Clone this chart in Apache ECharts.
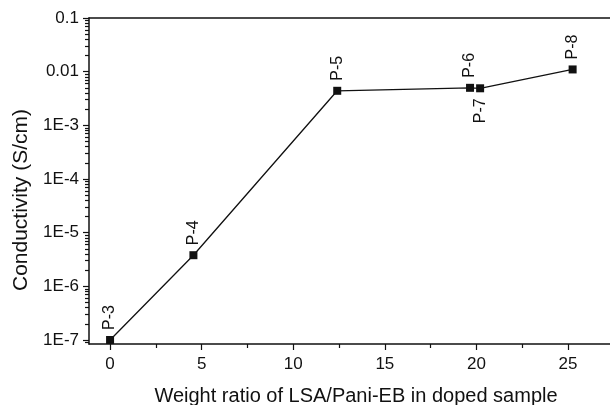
<!doctype html>
<html>
<head>
  <meta charset="utf-8">
  <script src="https://cdn.jsdelivr.net/npm/echarts@6/dist/echarts.min.js"></script>
  <style>html,body{margin:0;padding:0;background:#fff;}</style>
</head>
<body>
  <div id="main" style="width:610px;height:405px;"></div>
  <script>
  // samples
  var samples = ['P-3', 'P-4', 'P-5', 'P-6', 'P-7', 'P-8'];
  var ratio = [0, 4.55, 12.4, 19.65, 20.2, 25.25];
  var conductivity = [1e-7, 3.8e-6, 4.4e-3, 5.0e-3, 4.9e-3, 0.011];
  var xTicks = [0, 5, 10, 15, 20, 25];
  var xMinorTicks = [2.5, 7.5, 12.5, 17.5, 22.5, 27.5];
  var yTickLabels = ['1E-7', '1E-6', '1E-5', '1E-4', '1E-3', '0.01', '0.1'];
  var yTickExp = [-7, -6, -5, -4, -3, -2, -1];

  var yMin = -7.075, yMax = -1;
  var xMin = -1.15, xMax = 28;

  var yMinor = [];
  for (var e = -8; e < -1; e++) {
    for (var k = 2; k <= 9; k++) {
      var v = e + Math.log10(k);
      if (v > yMin && v < yMax) yMinor.push(v);
    }
  }

  var font = 'Liberation Sans, Arial, sans-serif';
  var ink = '#111';

  var data = [];
  for (var i = 0; i < samples.length; i++) {
    var below = samples[i] === 'P-7';
    data.push({
      value: [ratio[i], Math.log10(conductivity[i])],
      label: {
        show: true,
        formatter: samples[i],
        position: below ? 'bottom' : 'top',
        distance: 6,
        rotate: 90,
        align: below ? 'right' : 'left',
        verticalAlign: 'middle',
        fontFamily: font,
        fontSize: 16,
        color: ink
      }
    });
  }

  var option = {
    backgroundColor: '#fff',
    animation: false,
    grid: { left: 89, top: 18, width: 534, height: 326, outerBoundsMode: 'none', containLabel: false },
    xAxis: [{
      type: 'value', min: xMin, max: xMax, position: 'bottom',
      name: 'Weight ratio of LSA/Pani-EB in doped sample',
      nameLocation: 'middle', nameGap: 42,
      nameTextStyle: { fontFamily: font, fontSize: 20, color: ink },
      axisLine: { show: true, onZero: false, lineStyle: { color: ink, width: 1.5 } },
      axisTick: { show: true, customValues: xTicks, length: 6, lineStyle: { color: ink, width: 1.2 } },
      axisLabel: { customValues: xTicks, margin: 12, fontFamily: font, fontSize: 17, color: ink },
      splitLine: { show: false }
    }, {
      type: 'value', min: xMin, max: xMax, position: 'bottom', offset: 0,
      axisLine: { show: false, onZero: false },
      axisTick: { show: true, customValues: xMinorTicks, length: 4, lineStyle: { color: ink, width: 1.2 } },
      axisLabel: { show: false },
      splitLine: { show: false }
    }, {
      type: 'value', min: xMin, max: xMax, position: 'top', offset: 0,
      axisLine: { show: true, onZero: false, lineStyle: { color: ink, width: 1.5 } },
      axisTick: { show: false }, axisLabel: { show: false }, splitLine: { show: false }
    }],
    yAxis: [{
      type: 'value', min: yMin, max: yMax, position: 'left',
      name: 'Conductivity (S/cm)',
      nameLocation: 'middle', nameGap: 56,
      nameTextStyle: { fontFamily: font, fontSize: 21, color: ink, padding: [0, 38, 0, 0] },
      axisLine: { show: true, onZero: false, lineStyle: { color: ink, width: 1.5 } },
      axisTick: { show: true, customValues: yTickExp, length: 6, lineStyle: { color: ink, width: 1.2 } },
      axisLabel: {
        customValues: yTickExp, margin: 10, fontFamily: font, fontSize: 17, color: ink,
        formatter: function (v) { return yTickLabels[yTickExp.indexOf(Math.round(v))]; }
      },
      splitLine: { show: false }
    }, {
      type: 'value', min: yMin, max: yMax, position: 'left', offset: 0,
      axisLine: { show: false, onZero: false },
      axisTick: { show: true, customValues: yMinor, length: 4, lineStyle: { color: ink, width: 1.2 } },
      axisLabel: { show: false },
      splitLine: { show: false }
    }],
    series: [{
      type: 'line',
      xAxisIndex: 0, yAxisIndex: 0,
      symbol: 'rect', symbolSize: 8,
      itemStyle: { color: ink },
      lineStyle: { color: ink, width: 1.3 },
      data: data
    }]
  };
  var myChart = echarts.init(document.getElementById('main'));
  myChart.setOption(option);
  </script>
</body>
</html>
